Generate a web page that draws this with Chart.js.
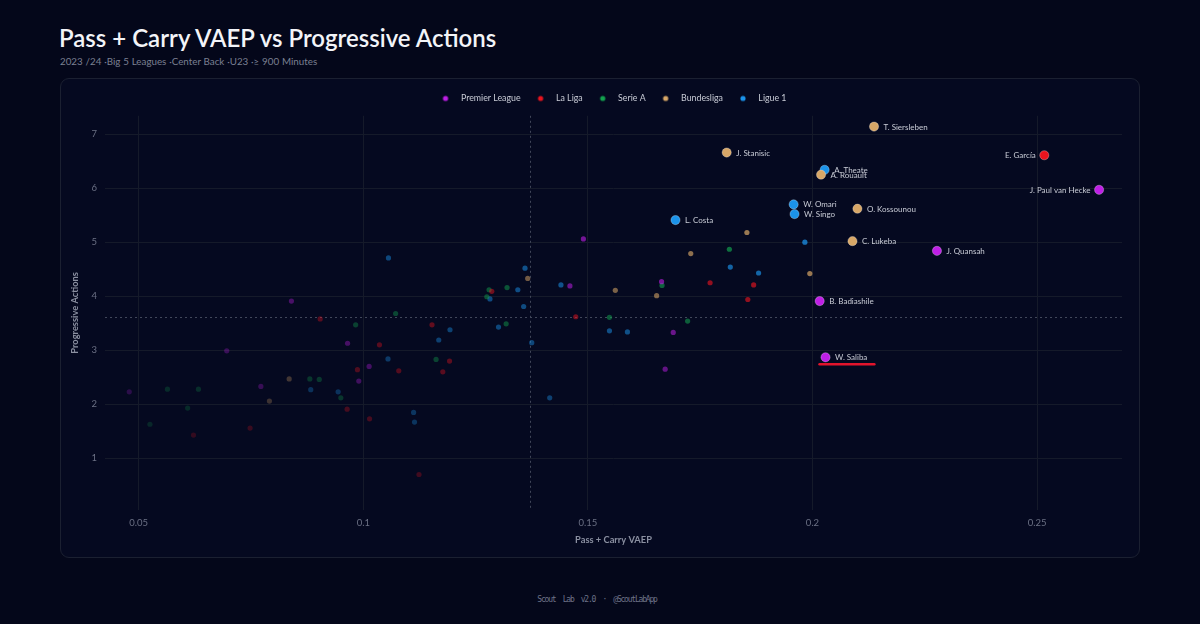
<!DOCTYPE html>
<html><head><meta charset="utf-8">
<script src="https://cdn.jsdelivr.net/npm/chart.js@4.4.1/dist/chart.umd.min.js"></script>
<style>
html,body{margin:0;padding:0;background:#04071a;width:1200px;height:624px;overflow:hidden;font-family:Lato,"Noto Sans",sans-serif;}
#title{position:absolute;left:59px;top:26px;font-size:24px;line-height:24px;font-weight:600;color:#f3f4f8;white-space:pre}
#sub{position:absolute;left:60px;top:56px;font-size:9.8px;line-height:10px;word-spacing:0.3px;color:#7b8092;white-space:pre}
#card{position:absolute;left:60px;top:78px;width:1078px;height:478px;border:1px solid #1b2031;border-radius:9px;background:#050920}
#wrap{position:absolute;left:60px;top:78px;width:1080px;height:480px}
#foot{position:absolute;left:-3px;width:1200px;top:596px;text-align:center;font-family:"DejaVu Sans Mono",monospace;font-size:8px;line-height:8px;letter-spacing:-1.2px;color:#6e7388;white-space:pre}
</style></head>
<body>
<div id="title">Pass + Carry VAEP vs Progressive Actions</div>
<div id="sub">2023 /24 ·Big 5 Leagues ·Center Back ·U23 ·≥ 900 Minutes</div>
<div id="card"></div>
<div id="wrap"><canvas id="c" width="1080" height="480"></canvas></div>
<div id="foot">Scout  Lab  v2.0  ·  @ScoutLabApp</div>
<script>
// ---- data ----
const leagues = ['Premier League', 'La Liga', 'Serie A', 'Bundesliga', 'Ligue 1'];

const plX = [0.0479, 0.0696, 0.0772, 0.0840, 0.0965, 0.0990, 0.1013, 0.1490, 0.1460, 0.1664, 0.1690, 0.1672, 0.2638, 0.2277, 0.2016, 0.2029];
const plY = [2.23, 2.99, 2.33, 3.91, 3.13, 2.43, 2.70, 5.06, 4.19, 4.27, 3.33, 2.65, 5.97, 4.84, 3.91, 2.87];
const plNames = ['', '', '', '', '', '', '', '', '', '', '', '', 'J. Paul van Hecke', 'J. Quansah', 'B. Badiashile', 'W. Saliba'];

const llX = [0.0622, 0.0748, 0.0904, 0.0964, 0.0987, 0.1036, 0.1014, 0.1079, 0.1124, 0.1153, 0.1177, 0.1192, 0.1286, 0.1473, 0.1772, 0.1869, 0.1856, 0.2516];
const llY = [1.43, 1.56, 3.58, 1.91, 2.64, 3.10, 1.73, 2.62, 0.70, 3.47, 2.60, 2.80, 4.09, 3.62, 4.25, 4.21, 3.94, 6.61];
const llNames = ['', '', '', '', '', '', '', '', '', '', '', '', '', '', '', '', '', 'E. García'];

const saX = [0.0525, 0.0564, 0.0609, 0.0633, 0.0881, 0.0902, 0.0950, 0.0983, 0.1072, 0.1162, 0.1280, 0.1275, 0.1320, 0.1318, 0.1548, 0.1665, 0.1722, 0.1815];
const saY = [1.63, 2.28, 1.93, 2.28, 2.47, 2.46, 2.12, 3.47, 3.68, 2.83, 4.12, 3.99, 4.16, 3.49, 3.61, 4.20, 3.54, 4.87];
const saNames = ['', '', '', '', '', '', '', '', '', '', '', '', '', '', '', '', '', ''];

const blX = [0.0791, 0.0835, 0.1366, 0.1561, 0.1653, 0.1729, 0.1854, 0.1994, 0.2137, 0.1809, 0.2019, 0.2100, 0.2089];
const blY = [2.06, 2.47, 4.33, 4.11, 4.01, 4.79, 5.18, 4.42, 7.14, 6.66, 6.25, 5.62, 5.02];
const blNames = ['', '', '', '', '', '', '', '', 'T. Siersleben', 'J. Stanisic', 'A. Rouault', 'O. Kossounou', 'C. Lukeba'];

const l1X = [0.0883, 0.0944, 0.1055, 0.1056, 0.1112, 0.1114, 0.1168, 0.1193, 0.1360, 0.1344, 0.1282, 0.1357, 0.1301, 0.1375, 0.1440, 0.1548, 0.1588, 0.1415, 0.1817, 0.1880, 0.1983, 0.2027, 0.1958, 0.1960, 0.1695];
const l1Y = [2.27, 2.23, 2.84, 4.71, 1.85, 1.67, 3.19, 3.38, 4.52, 4.12, 3.95, 3.81, 3.43, 3.14, 4.21, 3.36, 3.34, 2.12, 4.54, 4.43, 5.00, 6.34, 5.70, 5.52, 5.41];
const l1Names = ['', '', '', '', '', '', '', '', '', '', '', '', '', '', '', '', '', '', '', '', '', 'A. Theate', 'W. Omari', 'W. Singo', 'L. Costa'];

const meanX = 0.1372;
const meanY = 3.62;
const highlighted = 'W. Saliba';
const xTicks = [0.05, 0.1, 0.15, 0.2, 0.25];
const yTicks = [1, 2, 3, 4, 5, 6, 7];

// ---- styles ----
const FONT = 'Lato, "Noto Sans", sans-serif';
const colors = ['#bf1fe6', '#e8141e', '#13a24e', '#d8a767', '#1b93ea'];
const seriesX = [plX, llX, saX, blX, l1X];
const seriesY = [plY, llY, saY, blY, l1Y];
const seriesNames = [plNames, llNames, saNames, blNames, l1Names];

function rgba(hex, a) {
  const n = parseInt(hex.slice(1), 16);
  return `rgba(${n >> 16},${(n >> 8) & 255},${n & 255},${a})`;
}
function fadeAlpha(p) {
  const xn = Math.max(0, Math.min(1, (p.x - 0.045) / 0.22));
  const yn = Math.max(0, Math.min(1, (p.y - 0.7) / 6.5));
  const s = 0.6 * xn + 0.4 * yn;
  return Math.min(0.88, 0.17 + 0.95 * Math.pow(s, 1.35));
}
function legendDot(color) {
  const c = document.createElement('canvas');
  c.width = 16; c.height = 8;
  const g = c.getContext('2d');
  g.fillStyle = color;
  g.beginPath(); g.arc(5, 4, 2.6, 0, Math.PI * 2); g.fill();
  return c;
}
const dots = colors.map(legendDot);

const datasets = leagues.map((name, i) => {
  const names = seriesNames[i];
  const col = colors[i];
  return {
    label: name,
    data: seriesX[i].map((v, j) => ({ x: v, y: seriesY[i][j] })),
    names: names,
    pointRadius: c => names[c.dataIndex] ? 4.6 : 2.6,
    pointBackgroundColor: c => names[c.dataIndex] ? col : rgba(col, fadeAlpha(c.raw)),
    pointBorderColor: c => names[c.dataIndex] ? 'rgba(255,255,255,0.28)' : 'rgba(0,0,0,0)',
    pointBorderWidth: c => names[c.dataIndex] ? 1 : 0,
    backgroundColor: col,
    borderColor: col,
    showLine: false
  };
});

const annot = {
  id: 'annot',
  afterLayout(chart) {
    if (chart.legend) { chart.legend.top -= 3; chart.legend.bottom -= 3; }
  },
  beforeDatasetsDraw(chart) {
    const { ctx, chartArea: a, scales: { x, y } } = chart;
    ctx.save();
    ctx.strokeStyle = '#41475a';
    ctx.lineWidth = 1;
    ctx.setLineDash([2, 3]);
    const mx = Math.round(x.getPixelForValue(meanX)) + 0.5;
    const my = Math.round(y.getPixelForValue(meanY)) + 0.5;
    ctx.beginPath(); ctx.moveTo(mx, a.top); ctx.lineTo(mx, a.bottom); ctx.stroke();
    ctx.beginPath(); ctx.moveTo(a.left, my); ctx.lineTo(a.right, my); ctx.stroke();
    ctx.restore();
  },
  afterDatasetsDraw(chart) {
    const { ctx } = chart;
    ctx.save();
    ctx.font = '8px ' + FONT;
    ctx.textBaseline = 'middle';
    chart.data.datasets.forEach((ds, i) => {
      const meta = chart.getDatasetMeta(i);
      meta.data.forEach((el, j) => {
        const nm = ds.names[j];
        if (!nm) return;
        const left = ds.data[j].x > 0.24;
        ctx.fillStyle = '#c9ccd6';
        ctx.textAlign = left ? 'right' : 'left';
        const tx = left ? el.x - 8.5 : el.x + 9.5;
        ctx.fillText(nm, tx, el.y + 0.5);
        if (nm === highlighted) {
          const w = ctx.measureText(nm).width;
          ctx.strokeStyle = '#e3142c';
          ctx.lineWidth = 2.5;
          ctx.lineCap = 'round';
          ctx.beginPath();
          ctx.moveTo(el.x - 6, el.y + 7);
          ctx.lineTo(tx + w + 7, el.y + 7);
          ctx.stroke();
        }
      });
    });
    ctx.restore();
  }
};

Chart.defaults.font.family = FONT;

new Chart(document.getElementById('c'), {
  type: 'scatter',
  data: { datasets },
  plugins: [annot],
  options: {
    responsive: false,
    animation: false,
    events: [],
    layout: { padding: { left: 0, right: 18, top: 4, bottom: 0 } },
    plugins: {
      tooltip: { enabled: false },
      legend: {
        position: 'top',
        fullSize: false,
        labels: {
          color: '#c9ccd6',
          font: { size: 8.8 },
          usePointStyle: true,
          pointStyleWidth: 16,
          boxHeight: 8,
          padding: 15,
          generateLabels: chart => chart.data.datasets.map((d, i) => ({
            text: d.label, pointStyle: dots[i], fillStyle: colors[i], strokeStyle: colors[i],
            lineWidth: 0, datasetIndex: i, hidden: false, fontColor: '#c9ccd6'
          }))
        }
      }
    },
    scales: {
      x: {
        type: 'linear',
        min: 0.0425, max: 0.2689,
        afterBuildTicks: s => { s.ticks = xTicks.map(v => ({ value: v })); },
        afterFit: s => { s.height = 48; },
        ticks: { color: '#6b7084', font: { size: 9.5 }, padding: 7, callback: v => String(+v.toFixed(2)) },
        grid: { color: '#151a2a', drawTicks: false },
        border: { display: false },
        title: { display: true, text: 'Pass + Carry VAEP', color: '#8b90a1', font: { size: 9.3, weight: '700' }, padding: { top: 0, bottom: 12 } }
      },
      y: {
        type: 'linear',
        min: 0.043, max: 7.34,
        afterBuildTicks: s => { s.ticks = yTicks.map(v => ({ value: v })); },
        afterFit: s => { s.width = 45; },
        ticks: { color: '#6b7084', font: { size: 9.5 }, padding: 8, callback: v => String(v) },
        grid: { color: '#151a2a', drawTicks: false },
        border: { display: false },
        title: { display: true, text: 'Progressive Actions', color: '#8b90a1', font: { size: 9.3, weight: '700' }, padding: { top: 9, bottom: 0 } }
      }
    }
  }
});
</script>
</body></html>
